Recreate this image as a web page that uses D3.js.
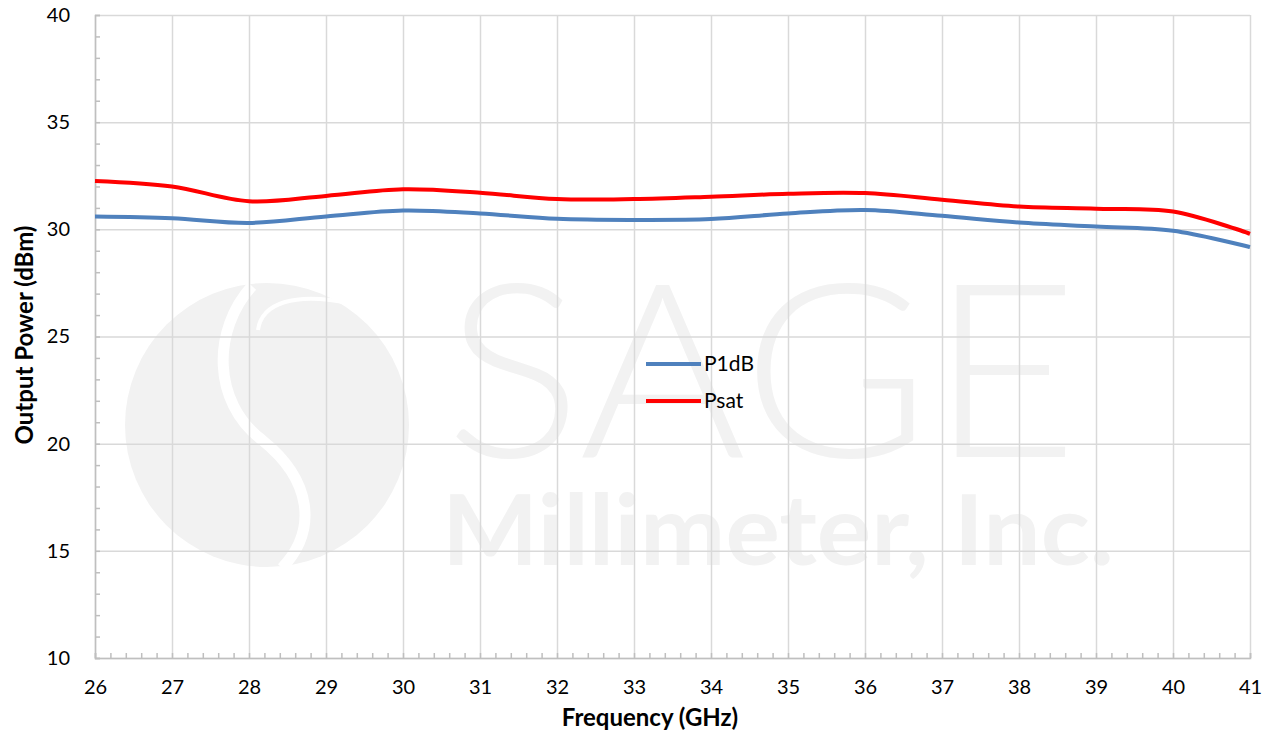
<!DOCTYPE html>
<html>
<head>
<meta charset="utf-8">
<script src="https://cdn.jsdelivr.net/npm/d3@7"></script>
<style>
  body { margin: 0; background: #fff; }
  svg { display: block; font-family: Lato, "Open Sans", sans-serif; }
</style>
</head>
<body>
<div id="chart"></div>
<script>
// data
var freq = [26, 27, 28, 29, 30, 31, 32, 33, 34, 35, 36, 37, 38, 39, 40, 41];
var p1db = [30.6, 30.52, 30.3, 30.6, 30.88, 30.74, 30.49, 30.44, 30.48, 30.74, 30.9, 30.63, 30.32, 30.13, 29.93, 29.17];
var psat = [32.26, 32.0, 31.31, 31.56, 31.87, 31.71, 31.41, 31.41, 31.52, 31.66, 31.69, 31.38, 31.06, 30.96, 30.83, 29.79];
var seriesNames = ['P1dB', 'Psat'];
var seriesColors = ['#4f81bd', '#ff0000'];
var yTicks = [10, 15, 20, 25, 30, 35, 40];
var xTicks = freq;

var W = 1273, H = 732;
var margin = {top: 15, right: 23, bottom: 74, left: 95};

var svg = d3.select('#chart').append('svg')
  .attr('width', W)
  .attr('height', H);

var x = d3.scaleLinear().domain([26, 41]).range([margin.left, W - margin.right]);
var y = d3.scaleLinear().domain([10, 40]).range([H - margin.bottom, margin.top]);

// watermark (logo + name), sits under the grid
var wm = svg.append('g').attr('fill', '#f2f2f2');
wm.append('circle').attr('cx', 267).attr('cy', 425).attr('r', 142);
wm.append('path')
  .attr('d', 'M252,286 C212,330 212,402 262,440 C312,480 318,530 282,568')
  .attr('fill', 'none').attr('stroke', '#fff').attr('stroke-width', 11);
wm.append('path')
  .attr('d', 'M258,330 C262,300 300,296 330,300 C380,306 408,340 410,380')
  .attr('fill', 'none').attr('stroke', '#fff').attr('stroke-width', 4);
wm.append('text')
  .attr('x', 445).attr('y', 457)
  .attr('font-size', 244).attr('font-weight', 300)
  .attr('textLength', 633).attr('lengthAdjust', 'spacingAndGlyphs')
  .text('SAGE');
wm.append('text')
  .attr('x', 442).attr('y', 565)
  .attr('font-size', 98).attr('font-weight', 700)
  .attr('textLength', 672).attr('lengthAdjust', 'spacingAndGlyphs')
  .text('Millimeter, Inc.');

// grid
svg.append('g')
  .attr('transform', 'translate(0,' + (H - margin.bottom) + ')')
  .call(d3.axisBottom(x).tickValues(xTicks).tickSize(-(H - margin.top - margin.bottom)).tickFormat(''))
  .call(function(g) {
    g.select('.domain').remove();
    g.selectAll('line').attr('stroke', '#d9d9d9').attr('stroke-width', 1.5);
  });
svg.append('g')
  .attr('transform', 'translate(' + margin.left + ',0)')
  .call(d3.axisLeft(y).tickValues(yTicks).tickSize(-(W - margin.left - margin.right)).tickFormat(''))
  .call(function(g) {
    g.select('.domain').remove();
    g.selectAll('line').attr('stroke', '#d9d9d9').attr('stroke-width', 1.5);
  });

// minor ticks (inside) + axis lines
svg.append('g')
  .attr('transform', 'translate(0,' + (H - margin.bottom) + ')')
  .call(d3.axisBottom(x).tickValues(d3.range(26, 41.001, 0.2)).tickSize(-5).tickFormat(''))
  .call(function(g) {
    g.select('.domain').attr('stroke', '#bfbfbf').attr('stroke-width', 1.5);
    g.selectAll('line').attr('stroke', '#bfbfbf').attr('stroke-width', 1.5);
  });
svg.append('g')
  .attr('transform', 'translate(' + margin.left + ',0)')
  .call(d3.axisLeft(y).tickValues(d3.range(10, 40.001, 1)).tickSize(-5).tickFormat(''))
  .call(function(g) {
    g.select('.domain').attr('stroke', '#bfbfbf').attr('stroke-width', 1.5);
    g.selectAll('line').attr('stroke', '#bfbfbf').attr('stroke-width', 1.5);
  });

// tick labels
svg.append('g')
  .attr('transform', 'translate(0,' + (H - margin.bottom + 19) + ')')
  .call(d3.axisBottom(x).tickValues(xTicks).tickSize(0).tickFormat(d3.format('d')))
  .call(function(g) {
    g.select('.domain').remove();
    g.selectAll('text').attr('font-size', 20).attr('fill', '#000').attr('font-family', 'Lato, sans-serif');
  });
svg.append('g')
  .attr('transform', 'translate(' + (margin.left - 22) + ',0)')
  .call(d3.axisLeft(y).tickValues(yTicks).tickSize(0).tickFormat(d3.format('d')))
  .call(function(g) {
    g.select('.domain').remove();
    g.selectAll('text').attr('font-size', 20).attr('fill', '#000').attr('font-family', 'Lato, sans-serif');
  });

// axis titles
svg.append('text')
  .attr('x', 650)
  .attr('y', 726)
  .attr('text-anchor', 'middle')
  .attr('font-size', 24).attr('font-weight', 700)
  .text('Frequency (GHz)');
svg.append('text')
  .attr('transform', 'translate(33,335) rotate(-90)')
  .attr('text-anchor', 'middle')
  .attr('font-size', 24).attr('font-weight', 700)
  .text('Output Power (dBm)');

// lines
var line = d3.line()
  .x(function(d) { return x(d[0]); })
  .y(function(d) { return y(d[1]); })
  .curve(d3.curveCatmullRom.alpha(0.5));

[p1db, psat].forEach(function(vals, i) {
  svg.append('path')
    .datum(freq.map(function(f, j) { return [f, vals[j]]; }))
    .attr('fill', 'none')
    .attr('stroke', seriesColors[i])
    .attr('stroke-width', 4)
    .attr('d', line);
});

// legend
var legend = svg.append('g').attr('transform', 'translate(646,364)');
seriesNames.forEach(function(name, i) {
  var row = legend.append('g').attr('transform', 'translate(0,' + (i * 37) + ')');
  row.append('line')
    .attr('x1', 0).attr('x2', 55)
    .attr('stroke', seriesColors[i]).attr('stroke-width', 4);
  row.append('text')
    .attr('x', 58).attr('y', 7)
    .attr('font-size', 21)
    .text(name);
});
</script>
</body>
</html>
